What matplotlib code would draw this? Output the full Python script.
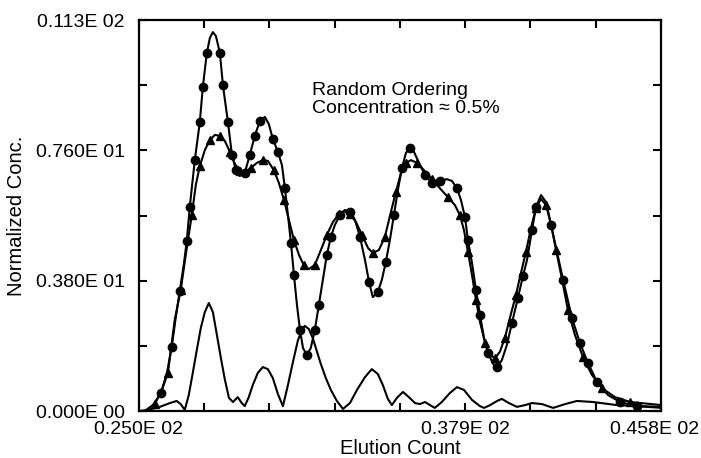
import matplotlib
matplotlib.use('Agg')
import matplotlib.pyplot as plt
import matplotlib.transforms as mtransforms

plt.rcParams['font.family'] = ['Liberation Sans', 'DejaVu Sans']

# curve with circles (sharper peaks)
xa = [25.24, 25.56, 25.88, 26.12, 26.31, 26.47, 26.63, 26.79, 26.91, 27.03,
      27.23, 27.43, 27.55, 27.71, 27.83, 27.95, 28.07, 28.23, 28.35, 28.55,
      28.71, 28.87, 29.02, 29.22, 29.42, 29.62, 29.82, 30.02, 30.18, 30.34,
      30.54, 30.70, 30.82, 30.94, 31.06, 31.18, 31.30, 31.42, 31.54, 31.69,
      31.85, 32.01, 32.17, 32.33, 32.49, 32.65, 32.81, 33.01, 33.21, 33.41,
      33.61, 33.81, 34.01, 34.17, 34.32, 34.52, 34.68, 34.84, 35.00, 35.16,
      35.32, 35.48, 35.64, 35.80, 35.96, 36.16, 36.40, 36.68, 36.99, 37.27,
      37.47, 37.67, 37.83, 37.99, 38.11, 38.27, 38.43, 38.59, 38.75, 38.91,
      39.11, 39.27, 39.46, 39.66, 39.86, 40.10, 40.30, 40.46, 40.66, 40.82,
      41.02, 41.22, 41.42, 41.62, 41.90, 42.25, 42.57, 42.89, 43.25, 43.69,
      44.17, 44.84, 45.84]
ya = [0.00, 0.17, 0.52, 1.10, 1.85, 2.69, 3.47, 4.22, 4.91, 5.90,
      7.25, 8.35, 9.36, 10.35, 10.78, 10.95, 10.84, 10.35, 9.42, 8.35,
      7.40, 6.96, 6.79, 6.88, 7.40, 7.95, 8.38, 8.50, 8.29, 7.86,
      7.49, 7.11, 6.44, 5.66, 4.86, 3.93, 3.06, 2.34, 1.82, 1.62,
      1.82, 2.34, 3.06, 3.79, 4.51, 5.03, 5.38, 5.66, 5.81, 5.75,
      5.52, 5.03, 4.36, 3.73, 3.29, 3.44, 3.79, 4.31, 4.94, 5.66,
      6.39, 7.02, 7.46, 7.60, 7.49, 7.17, 6.82, 6.59, 6.65, 6.70,
      6.65, 6.44, 6.10, 5.61, 4.94, 4.28, 3.50, 2.77, 2.11, 1.68,
      1.36, 1.27, 1.47, 1.91, 2.54, 3.27, 3.90, 4.36, 5.23, 5.90,
      6.24, 6.04, 5.38, 4.71, 3.79, 2.69, 1.97, 1.39, 0.84, 0.46,
      0.26, 0.14, 0.09]

# curve with triangles (smoother)
xb = [25.24, 25.64, 25.92, 26.16, 26.43, 26.67, 26.87, 27.11, 27.27, 27.43,
      27.63, 27.83, 28.03, 28.23, 28.43, 28.63, 28.83, 29.02, 29.22, 29.46,
      29.70, 29.94, 30.14, 30.38, 30.58, 30.78, 30.98, 31.18, 31.38, 31.57,
      31.77, 32.01, 32.25, 32.49, 32.73, 32.97, 33.17, 33.41, 33.65, 33.89,
      34.13, 34.32, 34.56, 34.80, 35.04, 35.24, 35.44, 35.64, 35.84, 36.08,
      36.36, 36.68, 36.99, 37.31, 37.59, 37.79, 37.95, 38.11, 38.27, 38.43,
      38.59, 38.79, 38.99, 39.19, 39.38, 39.58, 39.78, 40.02, 40.22, 40.42,
      40.62, 40.82, 41.02, 41.22, 41.42, 41.62, 41.86, 42.09, 42.37, 42.69,
      43.05, 43.45, 43.97, 44.57, 45.84]
yb = [0.00, 0.20, 0.61, 1.10, 2.63, 3.50, 4.51, 5.66, 6.53, 7.08,
      7.54, 7.83, 7.98, 7.95, 7.80, 7.49, 7.14, 6.94, 6.91, 7.02,
      7.17, 7.25, 7.23, 6.96, 6.59, 6.10, 5.52, 4.94, 4.51, 4.22,
      4.10, 4.22, 4.65, 5.09, 5.46, 5.69, 5.78, 5.69, 5.46, 5.09,
      4.71, 4.57, 4.65, 5.03, 5.75, 6.33, 6.88, 7.17, 7.25, 7.17,
      6.96, 6.70, 6.44, 6.18, 5.95, 5.66, 5.23, 4.60, 3.93, 3.21,
      2.57, 1.97, 1.62, 1.53, 1.71, 2.11, 2.69, 3.35, 3.99, 4.60,
      5.29, 5.87, 6.13, 5.95, 5.38, 4.65, 3.79, 2.92, 2.20, 1.56,
      1.04, 0.66, 0.40, 0.26, 0.17]

# difference curve along the bottom
xc = [25.00, 25.36, 25.84, 26.24, 26.51, 26.67, 26.83, 26.99, 27.15, 27.31,
      27.47, 27.63, 27.79, 27.95, 28.11, 28.27, 28.43, 28.59, 28.75, 28.94,
      29.10, 29.22, 29.38, 29.54, 29.74, 29.94, 30.14, 30.34, 30.54, 30.74,
      30.94, 31.14, 31.34, 31.50, 31.61, 31.77, 31.93, 32.09, 32.25, 32.45,
      32.65, 32.89, 33.13, 33.41, 33.69, 34.01, 34.28, 34.52, 34.72, 34.92,
      35.08, 35.28, 35.52, 35.76, 36.00, 36.20, 36.40, 36.60, 36.79, 37.07,
      37.39, 37.67, 37.95, 38.27, 38.59, 38.75, 38.99, 39.27, 39.46, 39.74,
      40.06, 40.38, 40.66, 41.06, 41.50, 41.98, 42.45, 43.09, 44.05, 44.96,
      45.84]
yc = [0.00, 0.03, 0.12, 0.23, 0.29, 0.20, 0.03, 0.46, 1.10, 1.76,
      2.40, 2.86, 3.12, 2.86, 2.20, 1.53, 0.90, 0.38, 0.26, 0.40,
      0.23, 0.14, 0.40, 0.75, 1.10, 1.27, 1.21, 0.95, 0.49, 0.14,
      0.75, 1.42, 2.05, 2.34, 2.46, 2.37, 2.11, 1.73, 1.36, 0.95,
      0.61, 0.29, 0.06, 0.23, 0.61, 0.98, 1.21, 1.07, 0.75, 0.35,
      0.17, 0.38, 0.55, 0.40, 0.23, 0.20, 0.26, 0.17, 0.09, 0.26,
      0.52, 0.69, 0.61, 0.32, 0.14, 0.09, 0.17, 0.29, 0.35, 0.23,
      0.12, 0.17, 0.23, 0.20, 0.09, 0.20, 0.29, 0.26, 0.17, 0.14,
      0.12]

xtick_labels = ['0.250E 02', '0.379E 02', '0.458E 02']
ytick_labels = ['0.000E 00', '0.380E 01', '0.760E 01', '0.113E 02']

xmin, xmax = 25.0, 45.8
ymin, ymax = 0.0, 11.3

# points of the curves that carry no symbol (peak tops, ends)
skip_a = {0, 1, 3, 5, 7, 14, 15, 16, 22, 27, 28, 31, 33, 36, 38, 40, 43, 46, 48,
          50, 52, 54, 56, 58, 60, 62, 64, 65, 69, 70, 72, 75, 78, 80, 82, 83,
          87, 90, 91, 93, 99, 102}
mark_a = [i for i in range(len(xa)) if i not in skip_a]
mark_b = [i for i in range(len(xb)) if i % 2 == 1 and i < len(xb) - 1]

fig = plt.figure(figsize=(7.01, 4.58), dpi=100)
ax = fig.add_axes([0.198, 0.1026, 0.745, 0.8537])

ax.plot(xa, ya, color='black', lw=1.5, marker='o', ms=6, markevery=mark_a)
ax.plot(xb, yb, color='black', lw=1.5, marker='^', ms=6, markevery=mark_b)
ax.plot(xc, yc, color='black', lw=1.5)

ax.set_xlim(xmin, xmax)
ax.set_ylim(ymin, ymax)

xt = [xmin + k * (xmax - xmin) / 8 for k in range(9)]
yt = [ymin + k * (ymax - ymin) / 6 for k in range(7)]
ax.set_xticks(xt)
ax.set_xticklabels([xtick_labels[0], '', '', '', '', xtick_labels[1], '', '', xtick_labels[2]])
ax.set_yticks(yt)
ax.set_yticklabels([ytick_labels[0], '', ytick_labels[1], '', ytick_labels[2], '', ytick_labels[3]])

ax.tick_params(direction='in', length=6, width=1.5, top=True, right=True,
               labelsize=14, pad=7)
ax.tick_params(axis='y', pad=10)
for s in ax.spines.values():
    s.set_linewidth(1.6)

# last x label sits a little left so it stays inside the figure
last = ax.get_xticklabels()[-1]
last.set_transform(last.get_transform() + mtransforms.ScaledTranslation(-6 / 100, 0, fig.dpi_scale_trans))

ax.set_xlabel('Elution Count', fontsize=14.5, labelpad=1)
ax.set_ylabel('Normalized Conc.', fontsize=14.5, labelpad=7)

ax.text(31.89, 9.0, 'Random Ordering\nConcentration \u2248 0.5%', fontsize=14,
        linespacing=1.05, va='center', ha='left')

fig.savefig('out.png', dpi=100)
